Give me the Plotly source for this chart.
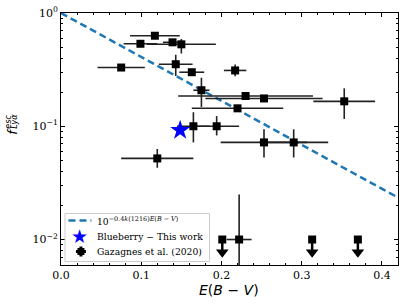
import numpy as np
import plotly.graph_objects as go

# ---------------- data ----------------
gaz_ebv = [0.117, 0.099, 0.139, 0.150, 0.075, 0.143, 0.163, 0.217, 0.175, 0.230,
           0.253, 0.220, 0.353, 0.165, 0.194, 0.253, 0.290, 0.120, 0.222]
gaz_ebv_err = [0.031, 0.021, 0.012, 0.043, 0.0295, 0.021, 0.0155, 0.014, 0.010, 0.084,
               0.073, 0.057, 0.0385, 0.0205, 0.028, 0.054, 0.043, 0.045, 0.0155]
gaz_f = [0.63, 0.535, 0.551, 0.529, 0.33, 0.353, 0.30, 0.311, 0.208, 0.185,
         0.176, 0.144, 0.166, 0.10, 0.10, 0.072, 0.072, 0.052, 0.010]
gaz_f_errp = [0.0, 0.0, 0.03, 0.06, 0.0, 0.075, 0.02, 0.04, 0.06, 0.0,
              0.0, 0.0, 0.05, 0.033, 0.023, 0.022, 0.022, 0.011, 0.015]
gaz_f_errm = [0.0, 0.0, 0.03, 0.09, 0.0, 0.075, 0.02, 0.035, 0.06, 0.0,
              0.0, 0.0, 0.05, 0.028, 0.017, 0.019, 0.019, 0.009, 0.0099]

lim_ebv = [0.201, 0.313, 0.370]
lim_f = [0.010, 0.010, 0.010]
lim_arrow_len = [0.0028, 0.0028, 0.0028]
lim_head = [0.0077, 0.0077, 0.0077]

blue_ebv = [0.1485]
blue_f = [0.092]

k1216 = 9.7
model_ebv = np.linspace(0.0, 0.42, 200)
model_f = 10 ** (-0.4 * k1216 * model_ebv)

legend_labels = ["10<sup>−0.4<i>k</i>(1216)<i>E</i>(<i>B</i> − <i>V</i>)</sup>",
                 "Blueberry − This work",
                 "Gazagnes et al. (2020)"]

x_ticks = [0.0, 0.1, 0.2, 0.3, 0.4]
x_ticktext = ["0.0", "0.1", "0.2", "0.3", "0.4"]
y_ticks = [0.01, 0.1, 1.0]
y_ticktext = ["10<sup>−2</sup>", "10<sup>−1</sup>", "10<sup>0</sup>"]
y_minor = [m * 10.0 ** e for e in (-3, -2, -1) for m in range(2, 10)]

SERIF = "DejaVu Serif"
SANS = "DejaVu Sans"
BLUE_LINE = "#1f77b4"

fig = go.Figure()

fig.add_trace(go.Scatter(
    x=model_ebv, y=model_f, mode="lines",
    line=dict(color=BLUE_LINE, width=2.5, dash="7px,4px"),
    name=legend_labels[0], showlegend=False,
))

fig.add_trace(go.Scatter(
    x=gaz_ebv, y=gaz_f, mode="markers",
    marker=dict(symbol="square", size=8, color="black"),
    error_x=dict(type="data", array=gaz_ebv_err, color="#222222", thickness=1.6, width=0),
    error_y=dict(type="data", array=gaz_f_errp, arrayminus=gaz_f_errm, symmetric=False,
                 color="#222222", thickness=1.6, width=0),
    name=legend_labels[2], showlegend=False,
))

fig.add_trace(go.Scatter(
    x=lim_ebv, y=lim_f, mode="markers",
    marker=dict(symbol="square", size=8, color="black"),
    error_y=dict(type="data", array=[0, 0, 0], arrayminus=lim_arrow_len, symmetric=False,
                 color="black", thickness=2.5, width=0),
    showlegend=False,
))
fig.add_trace(go.Scatter(
    x=lim_ebv, y=lim_head, mode="markers",
    marker=dict(symbol="triangle-down", size=11, color="black"),
    showlegend=False,
))

fig.add_trace(go.Scatter(
    x=blue_ebv, y=blue_f, mode="markers",
    marker=dict(symbol="star", size=15, color="blue"),
    name=legend_labels[1], showlegend=False,
))

axis_common = dict(
    showline=True, linecolor="black", linewidth=1, mirror="allticks",
    ticks="inside", ticklen=4, tickwidth=1, tickcolor="black",
    showgrid=False, zeroline=False, automargin=False,
    tickfont=dict(family=SERIF, size=11, color="black"),
)

fig.update_xaxes(
    range=[0, 0.42], tickmode="array", tickvals=x_ticks, ticktext=x_ticktext,
    minor=dict(ticks="inside", ticklen=2, dtick=0.02, tick0=0, tickcolor="black"),
    **axis_common,
)
fig.update_yaxes(
    type="log", range=[-2.225, 0], tickmode="array", tickvals=y_ticks, ticktext=y_ticktext,
    minor=dict(ticks="inside", ticklen=2, tickmode="array", tickvals=y_minor, tickcolor="black"),
    **axis_common,
)

# pixel -> paper helper (plot area: left 60.5, width 338, bottom 265, height 252)
PW, PH, ML, PB = 338.0, 252.0, 60.5, 265.0
def px2paper(px, py):
    return (px - ML) / PW, (PB - py) / PH

# x axis label
tx, ty = px2paper(228.5, 289.5)
fig.add_annotation(x=tx, y=ty, xref="paper", yref="paper",
                   text="<i>E</i>(<i>B</i> − <i>V</i>)", showarrow=False,
                   xanchor="center", yanchor="middle",
                   font=dict(family=SANS, size=14, color="black"))

# y axis label: f_{Lya}^{esc}
for txt, (px, py), size in [("<i>f</i>", (11.0, 131.0), 13),
                            ("<i>esc</i>", (7.5, 121.5), 8),
                            ("<i>Lyα</i>", (13.5, 121.5), 8)]:
    xx, yy = px2paper(px, py)
    fig.add_annotation(x=xx, y=yy, xref="paper", yref="paper", text=txt, showarrow=False,
                       textangle=-90, font=dict(family=SANS, size=size, color="black"),
                       xanchor="center", yanchor="middle")

# ---- custom legend ----
x0, y0 = px2paper(64.5, 213.5)
x1, y1 = px2paper(209.5, 261.5)
fig.add_shape(type="rect", xref="paper", yref="paper", x0=x0, y0=y1, x1=x1, y1=y0,
              line=dict(color="#cccccc", width=1), fillcolor="rgba(255,255,255,0.85)",
              layer="above")
row_y = [220.5, 236.0, 251.5]
text_x = px2paper(95.0, 0)[0]
for lab, ry in zip(legend_labels, row_y):
    fig.add_annotation(x=text_x, y=px2paper(0, ry)[1], xref="paper", yref="paper",
                       text=lab, showarrow=False, xanchor="left", yanchor="middle",
                       font=dict(family=SERIF, size=9.2, color="black"))
# dashed line glyph
lx0, ly = px2paper(68.0, row_y[0])
lx1, _ = px2paper(91.0, row_y[0])
fig.add_shape(type="line", xref="paper", yref="paper", x0=lx0, x1=lx1, y0=ly, y1=ly,
              line=dict(color=BLUE_LINE, width=2.5, dash="7px,4px"), layer="above")
# star glyph
sx, sy = px2paper(79.0, row_y[1])
fig.add_annotation(x=sx, y=sy, xref="paper", yref="paper", text="★", showarrow=False,
                   xanchor="center", yanchor="middle", font=dict(family=SANS, size=19, color="blue"))
# Gazagnes glyph: square with short error bars
gx, gy = 80.5, row_y[2]
ax0, ay0 = px2paper(gx - 3.5, gy - 3.5)
ax1, ay1 = px2paper(gx + 3.5, gy + 3.5)
fig.add_shape(type="rect", xref="paper", yref="paper", x0=ax0, y0=ay1, x1=ax1, y1=ay0,
              line=dict(width=0), fillcolor="black", layer="above")
for (qa, qb) in [((gx - 5, gy), (gx + 5, gy)), ((gx, gy - 5), (gx, gy + 5))]:
    pa, pb = px2paper(*qa), px2paper(*qb)
    fig.add_shape(type="line", xref="paper", yref="paper", x0=pa[0], y0=pa[1], x1=pb[0], y1=pb[1],
                  line=dict(color="black", width=3), layer="above")

fig.update_layout(
    width=407, height=304,
    margin=dict(l=60.5, r=8.5, t=13, b=39, autoexpand=False),
    paper_bgcolor="white", plot_bgcolor="white",
    showlegend=False,
)

fig.write_html("out.html", config={"displayModeBar": False},
               post_script="document.body.style.margin='0px';")
